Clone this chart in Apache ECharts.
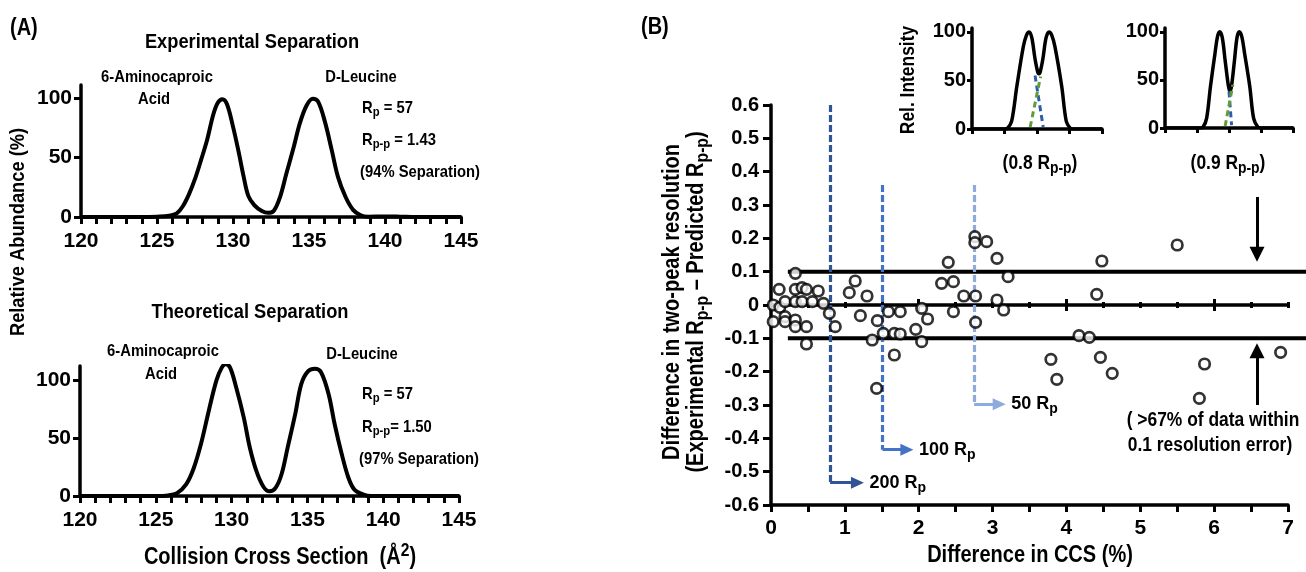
<!DOCTYPE html>
<html><head><meta charset="utf-8">
<script src="https://cdn.jsdelivr.net/npm/echarts@6/dist/echarts.min.js"></script>
<style>html,body{margin:0;padding:0;background:#fff}#c{width:1306px;height:572px}</style>
</head><body><div id="c"></div>
<script>
// ---------- DATA ----------
// Panel A: experimental separation
const expCCS   = [120,121,122,123,124,125,125.8,126.3,126.7,127.1,127.5,127.9,128.3,128.7,129.0,129.3,129.6,130.0,130.35,130.7,131.0,131.4,131.9,132.3,132.7,133.1,133.5,134.0,134.4,134.85,135.25,135.6,136.05,136.5,136.9,137.4,137.9,138.4,138.9,140,141,142,143,144,145];
const expAbund = [0,0,0,0,0,0.3,1,3,9,19,32,48,65,86,96,99,95,76,56,34,18,10,5,3.5,5.5,17,36,59,79,94,99.5,97,80,56,34,17,6,1.5,0.3,0.5,0.3,0,0,0,0];
// Panel A: theoretical separation
const theoCCS   = [120,121,122,123,124,125,125.8,126.4,127.0,127.5,128.0,128.5,129.0,129.35,129.6,129.9,130.3,130.8,131.2,131.65,132.1,132.5,132.9,133.3,133.7,134.2,134.6,135.05,135.5,135.9,136.4,136.8,137.25,137.7,138.1,138.7,139.2,140,141,142,143,144,145];
const theoAbund = [0,0,0,0,0,0,0.5,2.5,10,24,46,74,100,111,114,111,94,68,42,21,8,4,7,19,42,71,97,108,110,107,88,62,37,16,5.5,1.2,0,0,0,0,0,0,0];
// Panel B: scatter
const ccsDiff = [0.03,0.11,0.03,0.12,0.19,0.19,0.19,0.33,0.33,0.33,0.33,0.33,0.42,0.42,0.48,0.48,0.48,0.56,0.64,0.71,0.79,0.87,1.06,1.14,1.21,1.30,1.37,1.44,1.43,1.59,1.52,1.67,1.75,1.75,1.67,1.96,2.04,2.04,2.12,2.31,2.40,2.47,2.47,2.61,2.77,2.77,2.76,2.76,2.92,3.06,3.06,3.15,3.21,4.48,5.50,4.41,4.17,4.31,3.79,3.87,4.46,4.62,5.87,5.80,6.90];
const resDiff = [0.00,0.047,-0.05,-0.007,0.01,-0.035,-0.05,0.095,0.047,0.01,-0.045,-0.065,0.052,0.01,0.047,-0.065,-0.117,0.01,0.042,0.005,-0.025,-0.065,0.037,0.072,-0.032,0.027,-0.105,-0.047,-0.25,-0.02,-0.085,-0.085,-0.02,-0.087,-0.15,-0.073,-0.01,-0.11,-0.042,0.065,0.128,0.07,-0.02,0.027,0.027,-0.052,0.205,0.187,0.19,0.14,0.015,-0.015,0.085,0.132,0.18,0.032,-0.092,-0.097,-0.163,-0.223,-0.157,-0.205,-0.177,-0.28,-0.142];
// Panel B: resolving-power guides
const rpLabel    = ['200','100','50'];
const rpX        = [0.80,1.51,2.75];
const rpTop      = [0.6,0.36,0.36];
const rpArrowY   = [-0.533,-0.434,-0.298];
const rpArrowEnd = [1.17,1.84,3.09];
const rpColor    = ['#2F5597','#4472C4','#8FAADC'];
// +-0.1 error band
const bandY = [0.1,-0.1];
const bandStart = 0.23, bandEnd = 7.3;
// error-band arrows
const arrowX = 6.58;
const arrowDown = [0.324,0.152];
const arrowUp = [-0.30,-0.137];
// tick values
const yTicksA = [0,50,100];
const zeroSmallTicks = [0.5,1,1.5,2.5,3,3.5,4.5,5,5.5,6.5,7];
const zeroBigTicks = [2,4,6];
// insets
const in1X = [0,1.0,1.1,1.22,1.38,1.58,1.68,1.76,1.84,1.94,2.02,2.06,2.1,2.18,2.28,2.37,2.45,2.55,2.76,2.9,3.02,3.1,4];
const in1Y = [0,0,1,8,44,85,97,100,94,72,59,57,59,72,94,100,97,85,44,8,1,0,0];
const in1BlueX = [1.94,2.19], in1BlueY = [55,2];
const in1GreenX = [1.79,2.11], in1GreenY = [2,54];
const in2X = [0,1.1,1.19,1.3,1.42,1.56,1.64,1.71,1.79,1.88,1.98,2.03,2.08,2.17,2.25,2.32,2.4,2.49,2.65,2.77,2.9,3.0,4];
const in2Y = [0,0,1,10,43,77,95,100,94,70,44,38,44,70,94,100,95,77,43,10,1,0,0];
const in2BlueX = [2.0,2.08], in2BlueY = [38,3];
const in2GreenX = [1.88,2.12], in2GreenY = [2,45];

// ---------- HELPERS ----------
const FF = "'Liberation Sans', Arial, Helvetica, sans-serif";
const TALL = 1.15, NARROW = 0.87;
const zip = (a,b) => a.map((v,i)=>[v,b[i]]);
function gRich(size){
  const ss = Math.round(size*0.78);
  return {
    s:{fontSize:ss,fontWeight:'bold',fontFamily:FF,fill:'#000',padding:[Math.round(size*0.55),0,0,0]},
    u:{fontSize:ss,fontWeight:'bold',fontFamily:FF,fill:'#000',padding:[0,0,Math.round(size*0.55),0]}
  };
}
function lRich(size){
  const ss = Math.round(size*0.78);
  return {
    n:{fontSize:size,fontWeight:'bold',fontFamily:FF,color:'#000'},
    s:{fontSize:ss,fontWeight:'bold',fontFamily:FF,color:'#000',padding:[Math.round(size*0.55),0,0,0]}
  };
}
function T(x,y,text,size,o){
  o = o||{};
  const fs = Math.round(size*TALL);
  return {type:'text',x:x,y:y,rotation:o.rot||0,scaleX:NARROW,scaleY:1,z:100,silent:true,
    style:{text:text,font:'bold '+fs+'px '+FF,fill:'#000',align:o.align||'center',verticalAlign:'middle',rich:gRich(fs)}};
}
const AL = {lineStyle:{color:'#000',width:3.5}};
const labelBase = (size)=>({color:'#000',fontWeight:'bold',fontFamily:FF,fontSize:size});

function axisA(grid,min,max,isX){
  if (isX) return {type:'value',gridIndex:grid,min:120,max:145,interval:1,
    axisLine:Object.assign({onZero:false},AL),
    axisTick:{length:7,lineStyle:{color:'#000',width:3}},
    axisLabel:Object.assign(labelBase(21),{margin:14,formatter:v=>(Math.round(v)%5===0?String(Math.round(v)):'')}),
    splitLine:{show:false}};
  return {type:'value',gridIndex:grid,min:min,max:max,
    axisLine:Object.assign({onZero:false},AL),
    axisTick:{length:7,customValues:yTicksA,lineStyle:{color:'#000',width:3}},
    axisLabel:Object.assign(labelBase(21),{margin:9,customValues:yTicksA}),
    splitLine:{show:false}};
}
function zeroAxis(grid,pos,ticks,len,showLine){
  return {type:'value',gridIndex:grid,position:pos,min:0,max:7,
    axisLine:{show:showLine,onZero:true,lineStyle:{color:'#000',width:3.5}},
    axisTick:{show:true,customValues:ticks,length:len,inside:false,lineStyle:{color:'#000',width:3}},
    axisLabel:{show:false},splitLine:{show:false}};
}
const hiddenY = g => ({type:'value',gridIndex:g,min:-0.6,max:0.6,show:false});
function insetX(g){
  return {type:'value',gridIndex:g,min:0,max:4,interval:1,
    axisLine:Object.assign({onZero:false},AL),
    axisTick:{length:5,lineStyle:{color:'#000',width:3}},
    axisLabel:{show:false},splitLine:{show:false}};
}
function insetY(g){
  return {type:'value',gridIndex:g,min:0,max:104,
    axisLine:Object.assign({onZero:false},AL),
    axisTick:{length:5,customValues:yTicksA,lineStyle:{color:'#000',width:3}},
    axisLabel:Object.assign(labelBase(20),{margin:6,customValues:yTicksA}),
    splitLine:{show:false}};
}
const curve = (x,y,data,w)=>({type:'line',xAxisIndex:x,yAxisIndex:y,data:data,smooth:0.35,showSymbol:false,symbol:'none',
  lineStyle:{color:'#000',width:w||4},z:3,silent:true});
const dashed = (x,y,data,color)=>({type:'line',xAxisIndex:x,yAxisIndex:y,data:data,showSymbol:false,symbol:'none',
  lineStyle:{color:color,width:3,type:[6,4]},z:4,silent:true});

// markLines for panel B
const ml = [];
for (let i=0;i<rpX.length;i++){
  ml.push([{coord:[rpX[i],rpTop[i]],lineStyle:{color:rpColor[i],width:3.2,type:[7,3]}},{coord:[rpX[i],rpArrowY[i]]}]);
  ml.push([{coord:[rpX[i],rpArrowY[i]],lineStyle:{color:rpColor[i],width:3,type:'solid'},
            label:{show:true,position:'end',distance:12,formatter:'{n|'+rpLabel[i]+' R}{s|p}',rich:lRich(18)}},
           {coord:[rpArrowEnd[i],rpArrowY[i]],symbol:'triangle',symbolSize:[12,13]}]);
}
ml.push([{coord:[arrowX,arrowDown[0]],lineStyle:{color:'#000',width:3,type:'solid'}},{coord:[arrowX,arrowDown[1]],symbol:'triangle',symbolSize:[15,15]}]);
ml.push([{coord:[arrowX,arrowUp[0]],lineStyle:{color:'#000',width:3,type:'solid'}},{coord:[arrowX,arrowUp[1]],symbol:'triangle',symbolSize:[15,15]}]);

const G = {left:771,top:105,width:517,height:400};
const option = {
  animation:false,
  backgroundColor:'#fff',
  grid:[
    {left:81,top:85,width:380,height:132},
    {left:80,top:366,width:379,height:130},
    Object.assign({},G), Object.assign({},G), Object.assign({},G), Object.assign({},G), Object.assign({},G),
    {left:771,top:105,width:539.2,height:400},
    {left:972,top:28,width:130,height:101},
    {left:1165,top:28,width:128,height:100}
  ],
  xAxis:[
    axisA(0,0,0,true),
    axisA(1,0,0,true),
    {type:'value',gridIndex:2,min:0,max:7,interval:0.5,
      axisLine:Object.assign({onZero:false},AL),
      axisTick:{length:7,lineStyle:{color:'#000',width:3}},
      axisLabel:Object.assign(labelBase(21),{margin:13,formatter:v=>(Math.abs(v-Math.round(v))<1e-6?String(Math.round(v)):'')}),
      splitLine:{show:false}},
    zeroAxis(3,'bottom',zeroSmallTicks,3,true),
    zeroAxis(4,'top',zeroSmallTicks,3,false),
    zeroAxis(5,'bottom',zeroBigTicks,6,false),
    zeroAxis(6,'top',zeroBigTicks,6,false),
    {type:'value',gridIndex:7,min:0,max:7.3,show:false},
    insetX(8), insetX(9)
  ],
  yAxis:[
    axisA(0,0,111,false),
    axisA(1,0,112.4,false),
    {type:'value',gridIndex:2,min:-0.6,max:0.6,interval:0.1,
      axisLine:Object.assign({onZero:false},AL),
      axisTick:{length:8,lineStyle:{color:'#000',width:3}},
      axisLabel:Object.assign(labelBase(20),{margin:12}),
      splitLine:{show:false}},
    hiddenY(3),hiddenY(4),hiddenY(5),hiddenY(6),hiddenY(7),
    insetY(8), insetY(9)
  ],
  series:[
    curve(0,0,zip(expCCS,expAbund)),
    curve(1,1,zip(theoCCS,theoAbund)),
    {type:'line',xAxisIndex:7,yAxisIndex:7,data:[[bandStart,bandY[0]],[bandEnd,bandY[0]]],showSymbol:false,symbol:'none',lineStyle:{color:'#000',width:4},z:2,silent:true},
    {type:'line',xAxisIndex:7,yAxisIndex:7,data:[[bandStart,bandY[1]],[bandEnd,bandY[1]]],showSymbol:false,symbol:'none',lineStyle:{color:'#000',width:4},z:2,silent:true},
    {type:'scatter',xAxisIndex:2,yAxisIndex:2,data:zip(ccsDiff,resDiff),symbol:'circle',symbolSize:10.5,
      itemStyle:{color:'#fff',borderColor:'#000',borderWidth:2.7},z:10,silent:true,
      markLine:{silent:true,animation:false,symbol:['none','none'],label:{show:false},data:ml}},
    curve(8,8,zip(in1X,in1Y),3.5),
    dashed(8,8,zip(in1BlueX,in1BlueY),'#2E5DA8'),
    dashed(8,8,zip(in1GreenX,in1GreenY),'#5E9E3A'),
    curve(9,9,zip(in2X,in2Y),3.5),
    dashed(9,9,zip(in2BlueX,in2BlueY),'#2E5DA8'),
    dashed(9,9,zip(in2GreenX,in2GreenY),'#5E9E3A')
  ],
  graphic:[
    T(10,29,'(A)',20,{align:'left'}),
    T(252,42,'Experimental Separation',18),
    T(157,77,'6-Aminocaproic',15),
    T(154,99,'Acid',15),
    T(361,77,'D-Leucine',15),
    T(362,108,'R{s|p} = 57',15,{align:'left'}),
    T(362,140,'R{s|p-p} = 1.43',15,{align:'left'}),
    T(360,172,'(94% Separation)',15,{align:'left'}),
    T(250,312,'Theoretical Separation',18),
    T(163,351,'6-Aminocaproic',15),
    T(161,374,'Acid',15),
    T(362,354,'D-Leucine',15),
    T(362,394,'R{s|p} = 57',15,{align:'left'}),
    T(362,427,'R{s|p-p}= 1.50',15,{align:'left'}),
    T(359,459,'(97% Separation)',15,{align:'left'}),
    T(280,558,'Collision Cross Section  (Å{u|2})',20),
    T(18,232,'Relative Abundance (%)',18,{rot:Math.PI/2}),
    T(641,28,'(B)',20,{align:'left'}),
    T(673,302,'Difference in two-peak resolution',20,{rot:Math.PI/2}),
    T(697,302,'(Experimental R{s|p-p} \u2013 Predicted R{s|p-p})',20,{rot:Math.PI/2}),
    T(1030,556,'Difference in CCS (%)',20),
    T(1213,420,'( >67% of data within',17),
    T(1210,445,'0.1 resolution error)',17),
    T(908,80,'Rel. Intensity',17,{rot:Math.PI/2}),
    T(1040,163,'(0.8 R{s|p-p})',17),
    T(1228,163,'(0.9 R{s|p-p})',17)
  ]
};
const chart = echarts.init(document.getElementById('c'),null,{renderer:'canvas'});
chart.setOption(option);
</script></body></html>
